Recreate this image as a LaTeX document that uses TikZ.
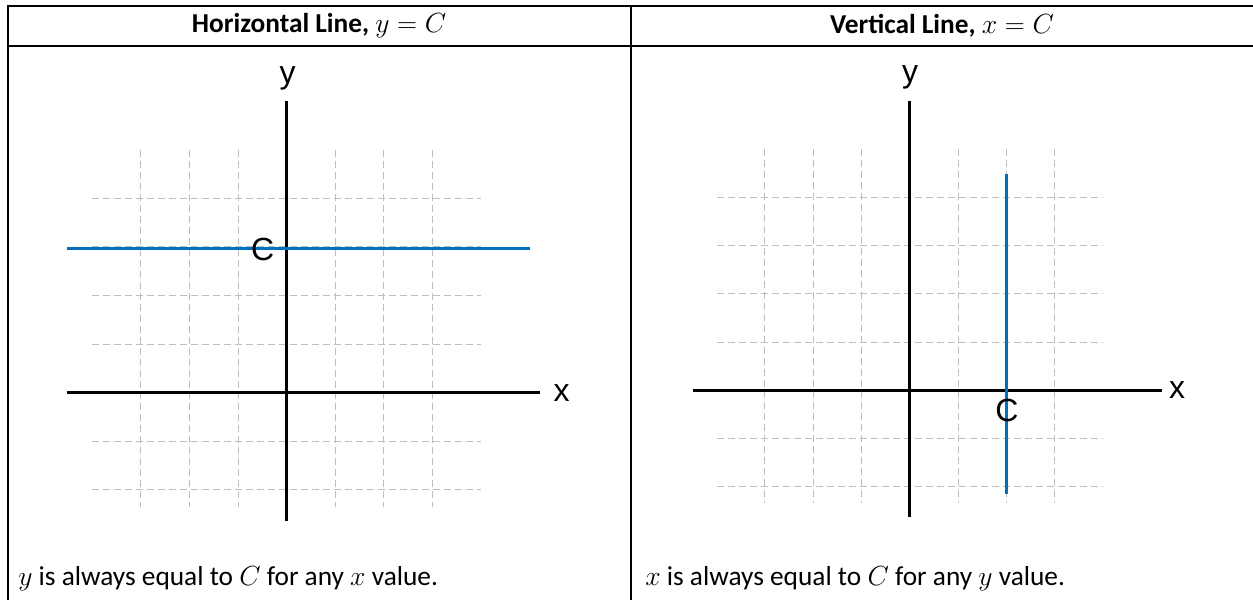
\documentclass[tikz,border=0pt]{standalone}
\usepackage{fontspec}
\setmainfont{Carlito}
\newfontfamily\arialf{Liberation Sans}
\definecolor{gridgray}{HTML}{BFBFBF}
\definecolor{lineblue}{HTML}{0070C0}
\begin{document}
\begin{tikzpicture}[x=0.75pt,y=-0.75pt,
  tbl/.style={line width=1.5pt},
  gridln/.style={gridgray, line width=0.75pt, dash pattern=on 5.25pt off 3pt},
  axisln/.style={black, line width=2.4pt},
  blueln/.style={lineblue, line width=2.4pt},
  lbl/.style={font=\arialf\fontsize{24}{27}\selectfont, inner sep=0pt},
  head/.style={font=\bfseries\fontsize{20.5}{24}\selectfont, inner sep=0pt},
  body/.style={font=\fontsize{20.5}{24}\selectfont, inner sep=0pt, anchor=base west}]
\useasboundingbox (0,0) rectangle (1253,600);
\fill[white] (0,0) rectangle (1253,600);
% table frame
\coordinate (tlb) at (7.5,600);
\coordinate (tl) at (7.5,6);
\coordinate (tr) at (1253,6);
\coordinate (hl) at (7.5,46);
\coordinate (hr) at (1253,46);
\coordinate (mt) at (631,6);
\coordinate (mb) at (631,600);
\draw[tbl] (tlb) -- (tl) -- (tr);
\draw[tbl] (hl) -- (hr);
\draw[tbl] (mt) -- (mb);
% headers
\node[head] (h1) at (319,26) {Horizontal Line, $y = C$};
\node[head] (h2) at (942,26) {Vertical Line, $x = C$};
% bottom texts
\node[body] (b1) at (18,585) {$y$ is always equal to $C$ for any $x$ value.};
\node[body] (b2) at (645,585) {$x$ is always equal to $C$ for any $y$ value.};
% left graph
\begin{scope}[shift={(286.7,392.7)}]
  \foreach \k in {-3,...,3} \draw[gridln] (\k*48.6,-242.7) -- (\k*48.6,114);
  \foreach \k in {-4,...,2} \draw[gridln] (-195,\k*48.6) -- (194,\k*48.6);
  \coordinate (lxa) at (-220,0);
  \coordinate (lxb) at (253.3,0);
  \coordinate (lya) at (0,-292);
  \coordinate (lyb) at (0,128);
  \draw[axisln] (lxa) -- (lxb);
  \draw[axisln] (lya) -- (lyb);
  \coordinate (lba) at (-220,-144.5);
  \coordinate (lbb) at (243.3,-144.5);
  \draw[blueln] (lba) -- (lbb);
  \node[lbl] (ly) at (1,-314.5) {y};
  \node[lbl] (lx) at (275,0) {x};
  \node[lbl] (lc) at (-24,-143.7) {C};
\end{scope}
% right graph
\begin{scope}[shift={(909.7,390.3)}]
  \foreach \k in {-3,...,3} \draw[gridln] (\k*48.3,-241) -- (\k*48.3,113);
  \foreach \k in {-4,...,2} \draw[gridln] (-192.4,\k*48.3) -- (193,\k*48.3);
  \coordinate (rxa) at (-216.4,0);
  \coordinate (rxb) at (252,0);
  \coordinate (rya) at (0,-289.6);
  \coordinate (ryb) at (0,126.4);
  \draw[axisln] (rxa) -- (rxb);
  \draw[axisln] (rya) -- (ryb);
  \coordinate (rba) at (96.6,-216);
  \coordinate (rbb) at (96.6,104);
  \draw[blueln] (rba) -- (rbb);
  \node[lbl] (ry) at (0.3,-313.3) {y};
  \node[lbl] (rx) at (267.3,0.2) {x};
  \node[lbl] (rc) at (97.3,20.5) {C};
\end{scope}
\end{tikzpicture}
\end{document}
